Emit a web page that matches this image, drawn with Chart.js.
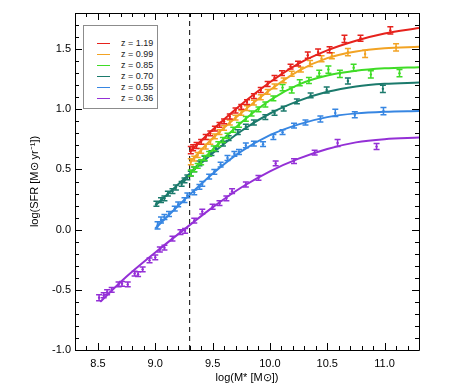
<!DOCTYPE html>
<html><head><meta charset="utf-8">
<script src="https://cdn.jsdelivr.net/npm/chart.js@4/dist/chart.umd.min.js"></script>
<style>
html,body{margin:0;padding:0;background:#fff;}
#wrap{position:relative;width:464px;height:391px;}
#legend{position:absolute;left:83px;top:25px;width:73px;height:82px;border:1px solid #8c8c8c;background:#fff;font-family:"Liberation Sans",Arial,sans-serif;font-size:9px;color:#222;}
.row{position:absolute;left:0;width:73px;height:11px;}
.sw{position:absolute;left:13px;top:5px;width:13px;height:1px;}
.lb{position:absolute;left:37px;top:0;line-height:11px;white-space:nowrap;}
</style></head>
<body><div id="wrap"><canvas id="c" width="464" height="391"></canvas><div id="legend"></div></div>
<script>
// ---- axis ticks ----
const xTicks = [8.5, 9.0, 9.5, 10.0, 10.5, 11.0];
const yTicks = [-1.0, -0.5, 0.0, 0.5, 1.0, 1.5];
const xTitle = 'log(M* [M\u2299])';
const yTitle = 'log(SFR [M\u2299 yr\u207B\u00B9])';
const vlineX = [9.3, 9.3];
const vlineY = [-1.0, 1.8];

// ---- series ----
const seriesNames = ['z = 1.19', 'z = 0.99', 'z = 0.85', 'z = 0.70', 'z = 0.55', 'z = 0.36'];
const seriesColors = ['#e6221c', '#f2a324', '#3fdc26', '#1b7a6c', '#3786e2', '#9430d6'];

// z = 1.19
const fitX_119 = [9.30, 9.50, 9.75, 10.0, 10.25, 10.5, 10.75, 11.0, 11.3];
const fitY_119 = [0.645, 0.83, 1.04, 1.225, 1.38, 1.49, 1.57, 1.63, 1.675];
const ptX_119 = [9.31, 9.33, 9.36, 9.40, 9.44, 9.48, 9.52, 9.56, 9.60, 9.65, 9.70, 9.75, 9.80, 9.86, 9.92, 9.98, 10.04, 10.105, 10.18, 10.245, 10.33, 10.42, 10.52, 10.65, 10.79, 11.05];
const ptY_119 = [0.66, 0.68, 0.70, 0.73, 0.77, 0.80, 0.84, 0.87, 0.90, 0.94, 0.99, 1.02, 1.06, 1.11, 1.16, 1.21, 1.26, 1.30, 1.355, 1.38, 1.45, 1.475, 1.495, 1.585, 1.59, 1.655];
const err_119 = [0.03, 0.025, 0.025, 0.02, 0.02, 0.02, 0.02, 0.02, 0.02, 0.02, 0.02, 0.02, 0.02, 0.02, 0.02, 0.02, 0.02, 0.02, 0.02, 0.02, 0.025, 0.025, 0.025, 0.03, 0.025, 0.03];

// z = 0.99
const fitX_099 = [9.30, 9.50, 9.75, 10.0, 10.25, 10.5, 10.75, 11.0, 11.3];
const fitY_099 = [0.56, 0.76, 0.97, 1.16, 1.32, 1.425, 1.48, 1.507, 1.52];
const ptX_099 = [9.31, 9.34, 9.37, 9.40, 9.44, 9.48, 9.52, 9.56, 9.60, 9.65, 9.70, 9.75, 9.80, 9.86, 9.92, 9.98, 10.04, 10.12, 10.19, 10.27, 10.35, 10.45, 10.54, 10.68, 10.83, 11.10];
const ptY_099 = [0.565, 0.59, 0.62, 0.655, 0.69, 0.73, 0.775, 0.81, 0.845, 0.89, 0.93, 0.97, 1.01, 1.055, 1.10, 1.145, 1.19, 1.24, 1.295, 1.33, 1.38, 1.42, 1.445, 1.475, 1.46, 1.515];
const err_099 = [0.025, 0.02, 0.02, 0.02, 0.02, 0.02, 0.02, 0.02, 0.02, 0.02, 0.02, 0.02, 0.02, 0.02, 0.02, 0.02, 0.02, 0.02, 0.02, 0.02, 0.025, 0.025, 0.025, 0.03, 0.03, 0.03];

// z = 0.85
const fitX_085 = [9.30, 9.50, 9.75, 10.0, 10.25, 10.5, 10.75, 11.0, 11.3];
const fitY_085 = [0.47, 0.665, 0.89, 1.075, 1.205, 1.28, 1.32, 1.34, 1.35];
const ptX_085 = [9.31, 9.34, 9.37, 9.40, 9.43, 9.47, 9.51, 9.55, 9.59, 9.63, 9.68, 9.73, 9.79, 9.84, 9.90, 9.96, 10.03, 10.11, 10.19, 10.26, 10.34, 10.43, 10.51, 10.61, 10.73, 10.88, 11.13];
const ptY_085 = [0.47, 0.50, 0.53, 0.56, 0.595, 0.63, 0.675, 0.71, 0.745, 0.78, 0.83, 0.87, 0.92, 0.965, 1.00, 1.04, 1.09, 1.18, 1.16, 1.22, 1.24, 1.30, 1.33, 1.295, 1.345, 1.29, 1.30];
const err_085 = [0.025, 0.02, 0.02, 0.02, 0.02, 0.02, 0.02, 0.02, 0.02, 0.02, 0.02, 0.02, 0.02, 0.02, 0.02, 0.02, 0.02, 0.025, 0.025, 0.025, 0.025, 0.025, 0.03, 0.03, 0.03, 0.03, 0.03];

// z = 0.70
const fitX_070 = [9.0, 9.25, 9.5, 9.75, 10.0, 10.25, 10.5, 10.75, 11.0, 11.3];
const fitY_070 = [0.20, 0.42, 0.635, 0.82, 0.965, 1.07, 1.145, 1.19, 1.212, 1.222];
const ptX_070 = [9.01, 9.05, 9.08, 9.11, 9.15, 9.18, 9.23, 9.255, 9.28, 9.31, 9.34, 9.385, 9.43, 9.49, 9.53, 9.59, 9.64, 9.72, 9.79, 9.86, 9.96, 10.04, 10.12, 10.235, 10.355, 10.495, 10.68, 10.985];
const ptY_070 = [0.215, 0.245, 0.26, 0.30, 0.32, 0.35, 0.38, 0.41, 0.435, 0.465, 0.50, 0.55, 0.59, 0.635, 0.67, 0.715, 0.76, 0.81, 0.855, 0.89, 0.935, 0.97, 1.005, 1.065, 1.115, 1.16, 1.235, 1.17];
const err_070 = [0.02, 0.02, 0.02, 0.02, 0.02, 0.02, 0.02, 0.02, 0.02, 0.02, 0.02, 0.02, 0.02, 0.02, 0.02, 0.02, 0.02, 0.02, 0.02, 0.02, 0.02, 0.02, 0.02, 0.02, 0.02, 0.025, 0.025, 0.03];

// z = 0.55
const fitX_055 = [9.0, 9.25, 9.5, 9.75, 10.0, 10.25, 10.5, 10.75, 11.0, 11.3];
const fitY_055 = [0.01, 0.245, 0.465, 0.65, 0.785, 0.875, 0.935, 0.966, 0.98, 0.986];
const ptX_055 = [9.02, 9.05, 9.08, 9.12, 9.17, 9.20, 9.255, 9.28, 9.34, 9.385, 9.41, 9.47, 9.515, 9.57, 9.63, 9.69, 9.73, 9.79, 9.86, 9.94, 10.03, 10.11, 10.21, 10.31, 10.44, 10.57, 10.74, 10.99];
const ptY_055 = [0.035, 0.08, 0.105, 0.13, 0.175, 0.21, 0.245, 0.285, 0.31, 0.355, 0.38, 0.44, 0.48, 0.54, 0.595, 0.63, 0.645, 0.70, 0.715, 0.71, 0.77, 0.81, 0.865, 0.89, 0.92, 0.97, 0.955, 0.985];
const err_055 = [0.03, 0.025, 0.02, 0.02, 0.02, 0.02, 0.02, 0.02, 0.02, 0.02, 0.02, 0.02, 0.02, 0.02, 0.02, 0.02, 0.02, 0.02, 0.02, 0.02, 0.02, 0.02, 0.02, 0.02, 0.025, 0.03, 0.025, 0.03];

// z = 0.36
const fitX_036 = [8.52, 8.75, 9.0, 9.25, 9.5, 9.75, 10.0, 10.25, 10.5, 10.75, 11.0, 11.3];
const fitY_036 = [-0.60, -0.39, -0.19, 0.0, 0.185, 0.35, 0.485, 0.59, 0.67, 0.725, 0.752, 0.765];
const ptX_036 = [8.51, 8.55, 8.58, 8.62, 8.68, 8.71, 8.76, 8.82, 8.85, 8.89, 8.95, 9.00, 9.04, 9.08, 9.15, 9.22, 9.26, 9.34, 9.41, 9.50, 9.56, 9.62, 9.67, 9.79, 9.90, 10.05, 10.21, 10.39, 10.59, 10.93];
const ptY_036 = [-0.565, -0.545, -0.52, -0.50, -0.455, -0.45, -0.455, -0.365, -0.37, -0.33, -0.255, -0.23, -0.165, -0.15, -0.075, -0.02, -0.01, 0.075, 0.15, 0.19, 0.22, 0.26, 0.32, 0.375, 0.43, 0.55, 0.57, 0.64, 0.72, 0.69];
const err_036 = [0.025, 0.02, 0.02, 0.02, 0.02, 0.02, 0.02, 0.02, 0.02, 0.02, 0.02, 0.02, 0.02, 0.02, 0.02, 0.02, 0.02, 0.02, 0.02, 0.02, 0.02, 0.02, 0.02, 0.02, 0.02, 0.02, 0.02, 0.02, 0.03, 0.025];

const fits = [[fitX_119, fitY_119], [fitX_099, fitY_099], [fitX_085, fitY_085], [fitX_070, fitY_070], [fitX_055, fitY_055], [fitX_036, fitY_036]];
const pts = [[ptX_119, ptY_119, err_119], [ptX_099, ptY_099, err_099], [ptX_085, ptY_085, err_085], [ptX_070, ptY_070, err_070], [ptX_055, ptY_055, err_055], [ptX_036, ptY_036, err_036]];

const zip = (xs, ys) => xs.map((v, i) => ({x: v, y: ys[i]}));

const datasets = [];
for (let i = fits.length - 1; i >= 0; i--) {
  datasets.push({
    label: seriesNames[i] + ' fit', data: zip(fits[i][0], fits[i][1]), showLine: true,
    borderColor: seriesColors[i], backgroundColor: seriesColors[i], borderWidth: 2,
    pointRadius: 0, cubicInterpolationMode: 'monotone', order: 2
  });
  datasets.push({
    label: seriesNames[i], data: zip(pts[i][0], pts[i][1]), errors: pts[i][2], showLine: false,
    borderColor: seriesColors[i], backgroundColor: seriesColors[i], pointRadius: 1.2, pointBorderWidth: 0, order: 1
  });
}
datasets.push({label: 'limit', data: zip(vlineX, vlineY), showLine: true, borderColor: '#000', borderWidth: 1,
  borderDash: [5, 4], pointRadius: 0, order: 3});

const errorBars = {
  id: 'errorBars',
  afterDatasetsDraw(chart) {
    const {ctx, scales: {x, y}} = chart;
    chart.data.datasets.forEach((ds) => {
      if (!ds.errors) return;
      ctx.save();
      ctx.strokeStyle = ds.borderColor; ctx.lineWidth = 1.5;
      ds.data.forEach((p, j) => {
        const px = x.getPixelForValue(p.x), e = ds.errors[j];
        const y1 = y.getPixelForValue(p.y - e), y2 = y.getPixelForValue(p.y + e);
        ctx.beginPath();
        ctx.moveTo(px, y1); ctx.lineTo(px, y2);
        ctx.moveTo(px - 3, y1); ctx.lineTo(px + 3, y1);
        ctx.moveTo(px - 3, y2); ctx.lineTo(px + 3, y2);
        ctx.stroke();
      });
      ctx.restore();
    });
  }
};

const frame = {
  id: 'frame',
  afterDraw(chart) {
    const {ctx, chartArea: a, scales: {x, y}} = chart;
    ctx.save();
    ctx.strokeStyle = '#000'; ctx.lineWidth = 1;
    ctx.beginPath();
    ctx.rect(Math.round(a.left) + 0.5, Math.round(a.top) + 0.5, Math.round(a.right - a.left), Math.round(a.bottom - a.top));
    for (let k = Math.ceil(x.min * 10 - 1e-6); k <= Math.floor(x.max * 10 + 1e-6); k++) {
      const len = (k % 5 === 0) ? 7 : 4;
      const px = Math.round(x.getPixelForValue(k / 10)) + 0.5;
      ctx.moveTo(px, a.bottom); ctx.lineTo(px, a.bottom - len);
      ctx.moveTo(px, a.top); ctx.lineTo(px, a.top + len);
    }
    for (let k = Math.ceil(y.min * 10 - 1e-6); k <= Math.floor(y.max * 10 + 1e-6); k++) {
      const len = (k % 5 === 0) ? 7 : 4;
      const py = Math.round(y.getPixelForValue(k / 10)) + 0.5;
      ctx.moveTo(a.left, py); ctx.lineTo(a.left + len, py);
      ctx.moveTo(a.right, py); ctx.lineTo(a.right - len, py);
    }
    ctx.stroke();
    ctx.restore();
  }
};

const fontFam = '"Liberation Sans", Arial, Helvetica, sans-serif';
new Chart(document.getElementById('c'), {
  type: 'scatter',
  data: {datasets},
  options: {
    responsive: false, animation: false, devicePixelRatio: 1,
    layout: {padding: {left: 0, right: 45, top: 13, bottom: 0}},
    plugins: {legend: {display: false}, tooltip: {enabled: false}},
    scales: {
      x: {
        type: 'linear', min: 8.3, max: 11.3,
        grid: {display: false, drawTicks: false}, border: {display: false},
        afterBuildTicks: (s) => { s.ticks = xTicks.map(v => ({value: v})); },
        afterFit: (s) => { s.height = 41; },
        ticks: {color: '#000', padding: 7, font: {family: fontFam, size: 11}, callback: (v) => v.toFixed(1), maxRotation: 0},
        title: {display: true, text: xTitle, color: '#000', font: {family: fontFam, size: 11}, padding: {top: 0, bottom: 6}}
      },
      y: {
        type: 'linear', min: -1.0, max: 1.8,
        grid: {display: false, drawTicks: false}, border: {display: false},
        afterBuildTicks: (s) => { s.ticks = yTicks.map(v => ({value: v})); },
        afterFit: (s) => { s.width = 75; },
        ticks: {color: '#000', padding: 4, font: {family: fontFam, size: 11}, callback: (v) => v.toFixed(1)},
        title: {display: true, text: yTitle, color: '#000', font: {family: fontFam, size: 11}, padding: {top: 28, bottom: 0}}
      }
    }
  },
  plugins: [errorBars, frame]
});

// legend
const leg = document.getElementById('legend');
seriesNames.forEach((n, i) => {
  const r = document.createElement('div'); r.className = 'row'; r.style.top = (12 + i * 10.9) + 'px';
  const s = document.createElement('div'); s.className = 'sw'; s.style.background = seriesColors[i];
  const l = document.createElement('div'); l.className = 'lb'; l.textContent = n;
  r.appendChild(s); r.appendChild(l); leg.appendChild(r);
});
</script>
</body></html>
